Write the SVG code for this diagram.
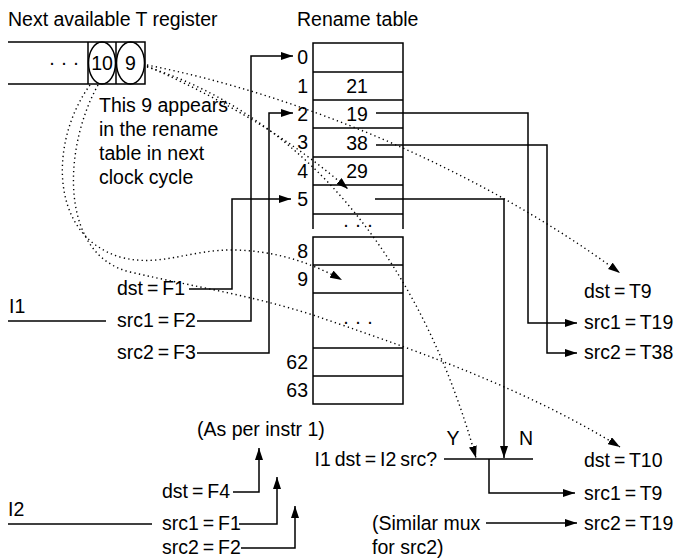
<svg xmlns="http://www.w3.org/2000/svg" width="675" height="559" viewBox="0 0 675 559">
<defs>
<marker id="ah" viewBox="0 0 12 8" refX="12" refY="4" markerWidth="12" markerHeight="8" markerUnits="userSpaceOnUse" orient="auto"><path d="M0,0 L12,4 L0,8 z" fill="#000"/></marker>
<marker id="ahd" viewBox="0 0 12 8" refX="12" refY="4" markerWidth="12" markerHeight="8" markerUnits="userSpaceOnUse" orient="auto"><path d="M0,0 L12,4 L0,8 z" fill="#000"/></marker>
</defs>
<style>
text{font-family:"Liberation Sans",Arial,Helvetica,sans-serif;font-size:19.5px;fill:#000}
.a{word-spacing:-1.5px}
.ln{fill:none;stroke:#000;stroke-width:1.5}
.ar{fill:none;stroke:#000;stroke-width:1.5;marker-end:url(#ah)}
.dt{fill:none;stroke:#000;stroke-width:1.4;stroke-dasharray:1.3 3.2;marker-end:url(#ahd)}
.tb{fill:none;stroke:#000;stroke-width:1.5}
.e{text-anchor:end}
.m{text-anchor:middle}
</style>
<rect width="675" height="559" fill="#fff"/>

<g id="register">
<text x="8" y="26">Next available T register</text>
<path class="tb" d="M8,42 H145 V84 H8 M88,42 V84 M116,42 V84"/>
<ellipse class="tb" cx="102" cy="63" rx="13.5" ry="21"/>
<ellipse class="tb" cx="130.5" cy="63" rx="14" ry="21"/>
<text x="102" y="70" class="m">10</text>
<text x="130.5" y="70" class="m">9</text>
<text x="64" y="69" class="m">· · ·</text>
</g>

<g id="note">
<text x="99" y="112">This 9 appears</text>
<text x="99" y="136">in the rename</text>
<text x="99" y="160">table in next</text>
<text x="99" y="184">clock cycle</text>
</g>

<g id="rename-table">
<text x="297" y="26">Rename table</text>
<path class="tb" d="M313,229 V43 H403 V229 M313,72 H403 M313,100 H403 M313,128 H403 M313,157 H403 M313,185 H403 M313,214 H403"/>
<path class="tb" d="M313,237 H403 V404 H313 Z M313,265 H403 M313,293 H403 M313,348 H403 M313,376 H403"/>
<text x="308" y="64" class="e">0</text>
<text x="308" y="93" class="e">1</text>
<text x="308" y="121" class="e">2</text>
<text x="308" y="149" class="e">3</text>
<text x="308" y="178" class="e">4</text>
<text x="308" y="206" class="e">5</text>
<text x="308" y="258" class="e">8</text>
<text x="308" y="286" class="e">9</text>
<text x="308" y="369" class="e">62</text>
<text x="308" y="397" class="e">63</text>
<text x="357" y="93" class="m">21</text>
<text x="357" y="121" class="m">19</text>
<text x="357" y="150" class="m">38</text>
<text x="357" y="178" class="m">29</text>
<text x="358" y="231" class="m">· · ·</text>
<text x="358" y="328" class="m">· · ·</text>
</g>

<g id="instr1">
<text x="9" y="313">I1</text>
<text x="117" y="295" class="a">dst = F1</text>
<text x="117" y="327" class="a">src1 = F2</text>
<text x="117" y="359" class="a">src2 = F3</text>
</g>

<g id="instr2">
<text x="8" y="516">I2</text>
<text x="197" y="436">(As per instr 1)</text>
<text x="162" y="498" class="a">dst = F4</text>
<text x="162" y="530" class="a">src1 = F1</text>
<text x="162" y="554" class="a">src2 = F2</text>
</g>

<g id="out1">
<text x="584" y="298" class="a">dst = T9</text>
<text x="584" y="329" class="a">src1 = T19</text>
<text x="584" y="359" class="a">src2 = T38</text>
</g>

<g id="mux">
<text x="437" y="466" class="e a">I1 dst = I2 src?</text>
<text x="453" y="445" class="m">Y</text>
<text x="526" y="445" class="m">N</text>
<path class="ln" d="M444,459 H533"/>
<text x="372" y="530">(Similar mux</text>
<text x="372" y="554">for src2)</text>
</g>

<g id="out2">
<text x="584" y="467" class="a">dst = T10</text>
<text x="584" y="500" class="a">src1 = T9</text>
<text x="584" y="530" class="a">src2 = T19</text>
</g>

<g id="connectors">
<path class="ln" d="M8,321 H106"/>
<path class="ar" d="M189,289 H232 V199 H291"/>
<path class="ar" d="M197,321 H251 V56 H293"/>
<path class="ar" d="M197,353 H269 V113 H293"/>
<path class="ar" d="M376,113 H528 V323 H577"/>
<path class="ar" d="M376,145 H547 V353 H577"/>
<path class="ar" d="M375,199 H504 V458"/>
<path class="ar" d="M489,459 V493 H575"/>
<path class="ar" d="M486,523 H577"/>
<path class="ln" d="M8,524 H152"/>
<path class="ar" d="M233,492 H259 V448"/>
<path class="ar" d="M239,524 H277 V477"/>
<path class="ar" d="M241,548 H295 V506"/>
<path class="dt" d="M147,65 C300,95 480,170 620,273"/>
<path class="dt" d="M147,66 Q270,120 348,189"/>
<path class="dt" d="M147,67 C270,105 410,220 476,458"/>
<path class="dt" d="M90,85 C50,140 48,235 120,257 C160,268 190,249 235,250 C275,251 310,262 342,280"/>
<path class="dt" d="M98,85 C62,150 60,255 130,272 C200,288 250,295 313,315 C400,345 520,385 620,447"/>
</g>
</svg>
